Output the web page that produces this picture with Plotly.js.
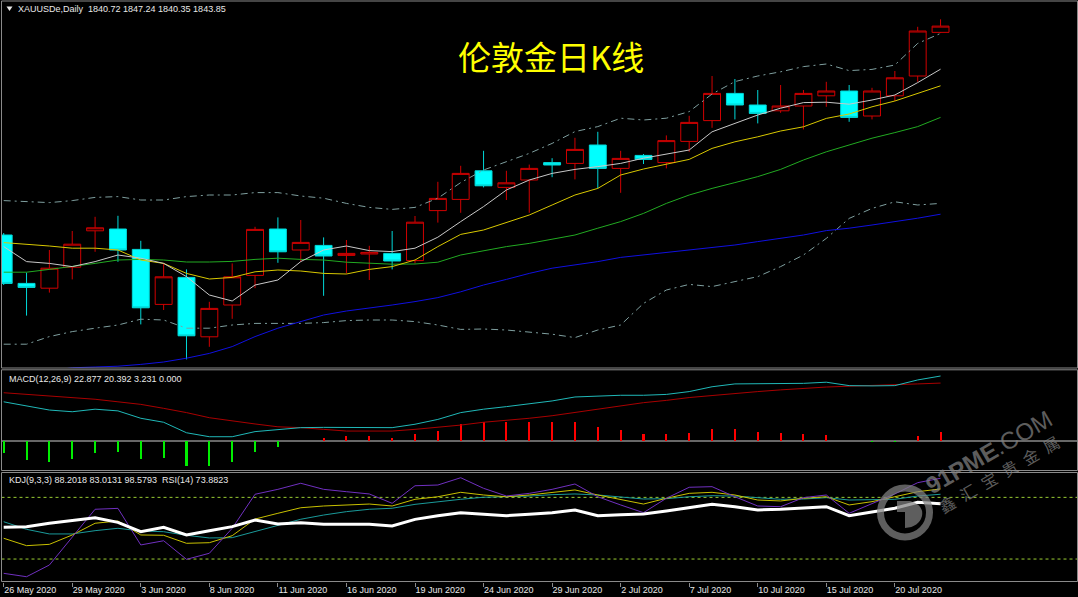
<!DOCTYPE html>
<html><head><meta charset="utf-8">
<script src="https://cdn.plot.ly/plotly-3.0.1.min.js"></script>
<style>html,body{margin:0;padding:0;background:#000;overflow:hidden}#chart{width:1078px;height:597px}</style>
</head><body><div id="chart"></div>
<script>
// ---------- data ----------
const symbol = 'XAUUSDe';
const period = 'Daily';
const dates = ['2020-05-26','2020-05-27','2020-05-28','2020-05-29','2020-06-01','2020-06-02','2020-06-03','2020-06-04','2020-06-05',
  '2020-06-08','2020-06-09','2020-06-10','2020-06-11','2020-06-12','2020-06-15','2020-06-16','2020-06-17','2020-06-18','2020-06-19',
  '2020-06-22','2020-06-23','2020-06-24','2020-06-25','2020-06-26','2020-06-29','2020-06-30','2020-07-01','2020-07-02','2020-07-03',
  '2020-07-06','2020-07-07','2020-07-08','2020-07-09','2020-07-10','2020-07-13','2020-07-14','2020-07-15','2020-07-16','2020-07-17',
  '2020-07-20','2020-07-21','2020-07-22'];
const open  = [1739.4,1715.2,1712.8,1723.3,1741.5,1742.4,1732.2,1704.7,1718.2,1688.5,1704.4,1719.2,1742.4,1731.9,1734.2,1729.2,1729.9,1730.2,1726.6,1751.6,1757.2,1771.5,1763.2,1766.9,1775.6,1775.2,1784.4,1772.7,1779.2,1775.6,1786.2,1796.6,1810.2,1804.4,1801.5,1803.9,1809.0,1811.4,1798.9,1809.0,1818.9,1840.72];
const high  = [1740.4,1720.6,1731.9,1741.4,1748.5,1749.0,1736.5,1725.2,1722.2,1706.0,1725.2,1743.5,1748.2,1746.9,1738.2,1736.9,1734.0,1741.4,1748.9,1766.0,1774.0,1781.5,1771.5,1774.6,1777.8,1788.0,1791.0,1781.5,1779.9,1789.2,1799.0,1818.9,1817.4,1811.9,1814.4,1811.9,1816.0,1814.4,1813.0,1821.4,1843.5,1847.24];
const low   = [1714.4,1699.1,1710.6,1717.2,1731.0,1726.0,1694.7,1701.9,1677.2,1683.5,1697.5,1712.8,1725.5,1726.0,1709.0,1720.2,1716.9,1722.2,1725.2,1745.6,1750.5,1763.2,1756.9,1750.5,1768.3,1767.2,1762.7,1760.5,1774.9,1772.7,1781.0,1793.0,1797.2,1795.2,1800.5,1792.2,1803.5,1796.0,1797.2,1806.4,1816.0,1840.35];
const close = [1715.2,1713.2,1722.8,1734.8,1743.0,1731.9,1703.0,1718.5,1689.0,1702.7,1718.5,1742.2,1731.0,1735.7,1728.9,1730.2,1730.7,1726.4,1745.8,1757.7,1770.2,1764.0,1765.5,1772.7,1774.4,1782.2,1772.7,1777.7,1777.2,1786.6,1795.7,1810.2,1804.4,1800.2,1803.9,1810.2,1811.4,1798.2,1811.4,1818.0,1841.4,1843.85];

const ma5  = [1733.6,1726.1,1725.2,1723.6,1726.1,1729.4,1727.8,1725.2,1718.6,1709.4,1706.4,1714.4,1716.9,1726.1,1731.9,1733.9,1731.6,1731.1,1732.8,1738.3,1746.1,1753.6,1761.9,1766.9,1770.2,1772.2,1773.6,1775.2,1777.8,1779.9,1781.9,1791.0,1795.2,1799.4,1802.8,1805.6,1805.8,1804.8,1806.9,1809.4,1815.6,1822.3];
const ma10 = [1735.6,1734.8,1733.9,1732.8,1732.8,1731.9,1726.9,1725.2,1720.2,1717.4,1718.2,1721.0,1721.9,1721.4,1720.2,1719.9,1722.2,1723.6,1726.9,1733.6,1739.7,1741.9,1745.6,1749.4,1754.4,1759.4,1762.7,1769.4,1772.4,1774.7,1777.2,1782.7,1786.0,1788.5,1791.4,1793.5,1797.7,1799.9,1803.5,1806.4,1810.2,1814.0];
const ma20 = [1720.8,1720.8,1722.2,1723.6,1725.2,1726.9,1727.2,1726.9,1725.9,1725.9,1726.2,1727.2,1727.8,1727.2,1726.9,1725.8,1725.2,1724.8,1724.9,1725.8,1729.4,1731.6,1733.6,1735.2,1737.2,1739.4,1742.8,1746.1,1750.2,1755.2,1759.4,1762.7,1765.6,1768.6,1772.2,1776.9,1781.0,1784.4,1787.8,1790.6,1793.6,1798.2];
const ma60 = [null,null,1671.5,1673.0,1673.4,1673.8,1674.7,1675.9,1677.8,1680.2,1683.6,1688.6,1692.8,1696.0,1699.4,1701.4,1702.8,1704.4,1706.1,1708.1,1711.0,1714.4,1717.2,1720.2,1722.8,1724.4,1726.1,1728.2,1729.4,1730.8,1731.9,1733.2,1734.4,1736.1,1737.7,1739.4,1741.6,1742.8,1744.4,1746.0,1747.8,1749.8];
const bbUpper = [1756.6,1756.1,1755.6,1756.6,1758.2,1758.6,1756.9,1756.9,1758.6,1759.4,1759.4,1760.6,1760.6,1758.9,1757.8,1755.2,1753.2,1752.2,1753.2,1757.8,1765.6,1771.9,1776.1,1780.2,1785.2,1791.1,1793.6,1797.8,1796.9,1797.8,1801.1,1809.9,1816.1,1818.9,1821.0,1823.6,1824.9,1821.6,1822.2,1824.4,1835.2,1840.2];
const bbLower = [1684.8,1684.8,1688.6,1691.1,1692.8,1694.4,1697.3,1696.9,1692.8,1692.8,1694.4,1695.2,1695.2,1695.2,1695.6,1696.6,1696.9,1696.9,1696.1,1694.4,1692.2,1692.4,1691.9,1691.0,1689.8,1688.1,1691.9,1694.4,1705.2,1711.9,1714.7,1713.6,1716.1,1718.6,1723.6,1729.4,1737.7,1747.7,1752.7,1756.0,1754.4,1755.2];

const macdMain   = [13.8,12.4,10.9,10.3,11.2,10.6,8.0,6.6,2.9,1.5,1.5,3.3,3.9,4.7,4.8,4.8,4.8,4.7,5.9,7.6,10.0,11.2,12.1,13.0,14.1,15.5,15.8,16.1,16.1,16.4,17.4,19.1,20.1,20.1,20.1,20.3,20.7,19.5,19.4,19.5,21.5,22.877];
const macdSignal = [17.0,16.4,15.8,15.3,14.7,13.8,12.9,11.5,10.0,8.2,7.0,6.0,5.0,4.7,4.1,3.5,3.5,3.5,4.1,4.8,5.6,6.6,7.2,8.0,8.9,10.0,11.2,12.4,13.5,14.3,15.3,16.0,16.8,17.4,18.0,18.6,19.0,19.3,19.5,19.7,20.1,20.392];
const macdHist   = [-4.3,-6.7,-7.3,-6.5,-4.3,-4.0,-6.3,-6.1,-8.7,-8.9,-7.5,-3.8,-2.0,0,1.2,1.8,1.9,1.2,2.3,3.6,5.9,6.6,6.6,6.8,6.8,6.8,5.0,3.8,2.5,2.3,2.8,4.1,4.1,3.3,2.7,2.5,2.1,0,-0.3,-0.3,1.8,3.231];
const macdDown   = 0.000;

const kdjK = [40.2,33.0,34.3,43.4,54.8,57.0,43.4,43.1,35.3,35.9,42.7,58.9,64.5,69.9,71.6,72.6,73.5,71.6,78.1,80.6,84.9,82.3,80.6,82.3,84.5,87.2,82.3,78.1,73.5,79.1,83.9,84.9,82.3,77.4,76.5,79.1,80.6,72.6,75.8,80.6,85.5,88.2018];
const kdjD = [56.3,48.9,44.4,44.4,47.6,49.9,47.3,46.6,43.1,40.5,40.8,46.6,53.1,58.7,62.8,66.1,68.4,69.4,73.2,75.8,78.1,80.1,80.6,81.3,82.6,83.3,82.3,80.6,78.4,78.7,80.6,81.6,81.3,79.7,78.1,78.4,79.7,77.4,77.4,78.1,81.3,83.0131];
const kdjJ = [6.1,2.8,14.2,41.7,68.4,69.3,33.7,37.8,19.7,25.6,49.9,83.0,87.8,93.7,87.8,85.5,83.3,74.2,91.3,92.0,99.1,88.8,81.3,83.9,87.8,93.0,80.6,72.6,65.1,79.1,89.8,90.4,80.6,71.6,70.9,79.7,82.3,64.5,74.2,83.3,94.3,98.5793];
const rsi14 = [50.9,51.5,54.8,57.3,60.2,55.7,46.6,50.9,43.4,47.6,51.5,58.0,54.1,55.4,53.8,53.8,53.8,52.1,58.6,62.2,65.1,63.5,62.2,63.5,65.1,67.7,62.2,63.1,63.8,66.7,70.3,73.2,70.9,67.7,68.4,69.6,70.9,62.2,66.1,69.4,75.2,73.8823];
const kdjLevels = [80, 20];

const tickDates = ['2020-05-26','2020-05-29','2020-06-03','2020-06-08','2020-06-11','2020-06-16','2020-06-19','2020-06-24','2020-06-29','2020-07-02','2020-07-07','2020-07-10','2020-07-15','2020-07-20'];
const tickLabels = ['26 May 2020','29 May 2020','3 Jun 2020','8 Jun 2020','11 Jun 2020','16 Jun 2020','19 Jun 2020','24 Jun 2020','29 Jun 2020','2 Jul 2020','7 Jul 2020','10 Jul 2020','15 Jul 2020','20 Jul 2020'];
const chartTitle = '伦敦金日K线';
const watermarkSite = '<b>91PME</b>.COM';
const watermarkName = ['鑫','汇','宝','贵','金','属'];

// ---------- layout helpers ----------
const W = 1078, H = 597;
const px = x => x / W;
const py = y => 1 - y / H;
const last = a => a[a.length - 1];
const NB = '\u00a0';
const txtFont = {family: 'Liberation Sans, Arial, sans-serif', size: 9, color: '#e8e8e8'};
const wmColor = 'rgba(130,130,130,0.72)';

const line = (y, yaxis, color, width, dash) => ({
  type: 'scatter', mode: 'lines', x: dates, y: y, yaxis: yaxis, hoverinfo: 'skip',
  line: {color: color, width: width, dash: dash || 'solid'}, connectgaps: false
});

const traces = [
  {type: 'candlestick', x: dates, open: open, high: high, low: low, close: close, yaxis: 'y', hoverinfo: 'skip',
   whiskerwidth: 0,
   increasing: {line: {color: '#d00000', width: 1}, fillcolor: '#000000'},
   decreasing: {line: {color: '#00d8d8', width: 1}, fillcolor: '#00ffff'}},
  line(bbUpper, 'y', '#7f9f9f', 1, '7px,4px,2px,4px'),
  line(bbLower, 'y', '#7f9f9f', 1, '7px,4px,2px,4px'),
  line(ma60, 'y', '#1010e0', 1),
  line(ma20, 'y', '#22aa22', 1),
  line(ma10, 'y', '#d8c800', 1),
  line(ma5, 'y', '#c8c8c8', 1),
  {type: 'bar', x: dates, y: macdHist, yaxis: 'y2', hoverinfo: 'skip', width: 0.09,
   marker: {color: macdHist.map(v => v >= 0 ? '#ff0000' : '#00ee00'), line: {width: 0}}},
  line(macdSignal, 'y2', '#a80000', 1),
  line(macdMain, 'y2', '#20b8b8', 1),
  line(kdjD, 'y3', '#1a9a9a', 1),
  line(kdjK, 'y3', '#c8c000', 1),
  line(kdjJ, 'y3', '#7030c0', 1),
  line(rsi14, 'y3', '#ffffff', 3)
];

const frame = '#8a8a8a';
const shapes = [
  {type: 'rect', xref: 'paper', yref: 'paper', x0: px(1.5), x1: px(1077.5), y0: py(368), y1: py(1), line: {color: frame, width: 1}},
  {type: 'rect', xref: 'paper', yref: 'paper', x0: px(1.5), x1: px(1077.5), y0: py(470.5), y1: py(369.8), line: {color: frame, width: 1}},
  {type: 'rect', xref: 'paper', yref: 'paper', x0: px(1.5), x1: px(1077.5), y0: py(581.5), y1: py(472.5), line: {color: frame, width: 1}},
  {type: 'line', xref: 'paper', yref: 'y2', x0: px(1.5), x1: px(1077.5), y0: 0, y1: 0, line: {color: '#8a8a8a', width: 1.5}, layer: 'below'},
  {type: 'path', xref: 'paper', yref: 'paper', path: `M ${px(6.5)} ${py(6.5)} L ${px(12.5)} ${py(6.5)} L ${px(9.5)} ${py(11)} Z`, fillcolor: '#e8e8e8', line: {width: 0}},
  // watermark logo ring and inner mark
  {type: 'circle', xref: 'paper', yref: 'paper', x0: px(880.5), x1: px(929.5), y0: py(537), y1: py(488), line: {color: wmColor, width: 7}},
  {type: 'path', xref: 'paper', yref: 'paper', line: {width: 0}, fillcolor: wmColor,
   path: `M ${px(897)} ${py(501)} L ${px(910)} ${py(501)} Q ${px(924)} ${py(505)} ${px(922)} ${py(516)} Q ${px(919)} ${py(527)} ${px(905)} ${py(528)} L ${px(905)} ${py(512)} L ${px(897)} ${py(512)} Z`}
].concat(kdjLevels.map(v => ({type: 'line', xref: 'paper', yref: 'y3', x0: px(1.5), x1: px(1077.5), y0: v, y1: v,
  line: {color: '#9acd32', width: 1, dash: 'dot'}, layer: 'below'})));

const headerText = `${symbol},${period}${NB}${NB}${last(open)} ${last(high)} ${last(low)} ${last(close)}`;
const macdText = `MACD(12,26,9) ${last(macdMain).toFixed(3)} ${last(macdSignal).toFixed(3)} ${last(macdHist).toFixed(3)} ${macdDown.toFixed(3)}`;
const kdjText = `KDJ(9,3,3) ${last(kdjK).toFixed(4)} ${last(kdjD).toFixed(4)} ${last(kdjJ).toFixed(4)}${NB}${NB}RSI(14) ${last(rsi14).toFixed(4)}`;

const annotations = [
  {text: headerText, xref: 'paper', yref: 'paper', x: px(16), y: py(8.5), xanchor: 'left', yanchor: 'middle', showarrow: false, font: txtFont},
  {text: macdText, xref: 'paper', yref: 'paper', x: px(6.5), y: py(378.5), xanchor: 'left', yanchor: 'middle', showarrow: false, font: txtFont},
  {text: kdjText, xref: 'paper', yref: 'paper', x: px(6.5), y: py(480.5), xanchor: 'left', yanchor: 'middle', showarrow: false, font: txtFont},
  {text: chartTitle, xref: 'paper', yref: 'paper', x: px(551), y: py(56), xanchor: 'center', yanchor: 'middle', showarrow: false,
   font: {family: 'Noto Sans CJK SC', size: 33, color: '#ffff00'}},
  {text: watermarkSite, xref: 'paper', yref: 'paper', x: px(988), y: py(452), xanchor: 'center', yanchor: 'middle', showarrow: false,
   textangle: -30, font: {family: 'Liberation Sans, Arial, sans-serif', size: 24, color: wmColor}},
  {text: watermarkName.join('\u2002'), xref: 'paper', yref: 'paper', x: px(999), y: py(474), xanchor: 'center', yanchor: 'middle', showarrow: false,
   textangle: -30, font: {family: 'Noto Sans CJK SC', size: 16, color: wmColor}}
];

const layout = {
  width: W, height: H, margin: {l: 0, r: 0, t: 0, b: 0, pad: 0},
  paper_bgcolor: '#000000', plot_bgcolor: '#000000',
  showlegend: false, hovermode: false, dragmode: false,
  boxgap: 0.26, boxgroupgap: 0, bargap: 0,
  xaxis: {type: 'category', domain: [px(2), 1], range: [-0.074, 47.015], anchor: 'y3',
    rangeslider: {visible: false}, showgrid: false, zeroline: false, showline: false, fixedrange: true,
    tickmode: 'array', tickvals: tickDates, ticktext: tickLabels,
    ticks: 'outside', ticklen: 4, tickcolor: '#8a8a8a', tickwidth: 1,
    ticklabelposition: 'outside right', tickfont: txtFont},
  yaxis:  {domain: [py(368), py(1)], range: [1672.9, 1856.4], visible: false, fixedrange: true},
  yaxis2: {domain: [py(470.5), py(370)], range: [-10.39, 25.0], visible: false, fixedrange: true},
  yaxis3: {domain: [py(581.5), py(472.5)], range: [-1.85, 104.18], visible: false, fixedrange: true},
  shapes: shapes,
  annotations: annotations
};

Plotly.newPlot('chart', traces, layout, {staticPlot: true, displayModeBar: false});
</script>
</body></html>
